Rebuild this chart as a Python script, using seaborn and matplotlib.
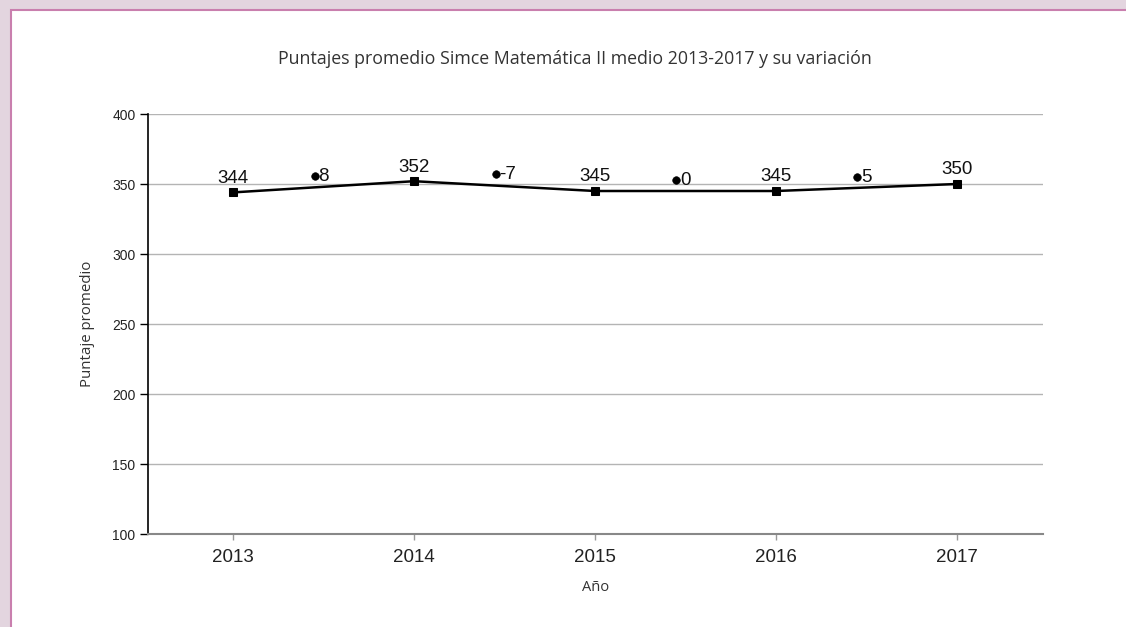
import matplotlib
matplotlib.use("Agg")
import matplotlib.pyplot as plt
import seaborn as sns
import pandas as pd
from matplotlib.patches import Rectangle

# datos
years = [2013, 2014, 2015, 2016, 2017]
scores = [344, 352, 345, 345, 350]
var_labels = ["8", "-7", "0", "5"]
var_y = [355.5, 357, 352.8, 355]

title = "Puntajes promedio Simce Matemática II medio 2013-2017 y su variación"

df = pd.DataFrame({"Año": years, "Puntaje": scores})
var_x = [y + 0.45 for y in years[:-1]]
df_var = pd.DataFrame({"x": var_x, "y": var_y, "label": var_labels})

sns.set_theme(style="white")
plt.rcParams["font.family"] = ["Liberation Sans", "DejaVu Sans"]

fig = plt.figure(figsize=(11.26, 6.27), dpi=100, facecolor="#e3d5df")
fig.patches.append(Rectangle((11 / 1126, -0.1), 1.2, (627 - 10) / 627 + 0.1,
                             transform=fig.transFigure, facecolor="white",
                             edgecolor="#c97fae", linewidth=1.5, zorder=-10))

ax = fig.add_axes([148 / 1126, 1 - 534 / 627, (1043 - 148) / 1126, (534 - 114) / 627])
ax.set_facecolor("white")

for yv in range(150, 401, 50):
    ax.axhline(yv, color="#b4b4b4", lw=1, zorder=1)

sns.lineplot(data=df, x="Año", y="Puntaje", color="black", lw=1.8,
             marker="s", markersize=6, markeredgecolor="black", ax=ax, zorder=3)
for x, y in zip(years, scores):
    ax.annotate(str(y), (x, y), xytext=(0, 4), textcoords="offset points",
                ha="center", va="bottom", fontsize=13.5, color="#111111")

sns.scatterplot(data=df_var, x="x", y="y", color="black", s=30, ax=ax, zorder=3,
                edgecolor="black")
for x, y, lab in zip(df_var["x"], df_var["y"], df_var["label"]):
    ax.annotate(lab, (x, y), xytext=(2.5, 0), textcoords="offset points",
                ha="left", va="center", fontsize=13.5, color="#111111")

ax.set_xlim(2012.53, 2017.475)
ax.set_ylim(100, 400)
ax.set_xticks(years)
ax.set_xticklabels([str(y) for y in years], fontsize=13.5, color="#222222")
ax.set_yticks(range(100, 401, 50))
ax.set_yticklabels([str(v) for v in range(100, 401, 50)], fontsize=10, color="#222222")
ax.tick_params(axis="y", length=6, width=1, color="black", pad=3, left=True)
ax.tick_params(axis="x", length=4, width=1, color="#999999", pad=7, bottom=True)

for s in ["top", "right"]:
    ax.spines[s].set_visible(False)
ax.spines["left"].set_color("black")
ax.spines["left"].set_linewidth(1.2)
ax.spines["bottom"].set_color("#888888")
ax.spines["bottom"].set_linewidth(1.5)

ax.set_xlabel("Año", fontsize=10.5, color="#333333", labelpad=10, family=["Open Sans", "DejaVu Sans"])
ax.set_ylabel("Puntaje promedio", fontsize=10.8, color="#333333", labelpad=12, family=["Open Sans", "DejaVu Sans"])

fig.text(575 / 1126, 1 - 59 / 627, title, ha="center", va="center",
         fontsize=12.8, color="#333333", family=["Open Sans", "DejaVu Sans"])

fig.savefig("out.png", dpi=100, facecolor=fig.get_facecolor())
